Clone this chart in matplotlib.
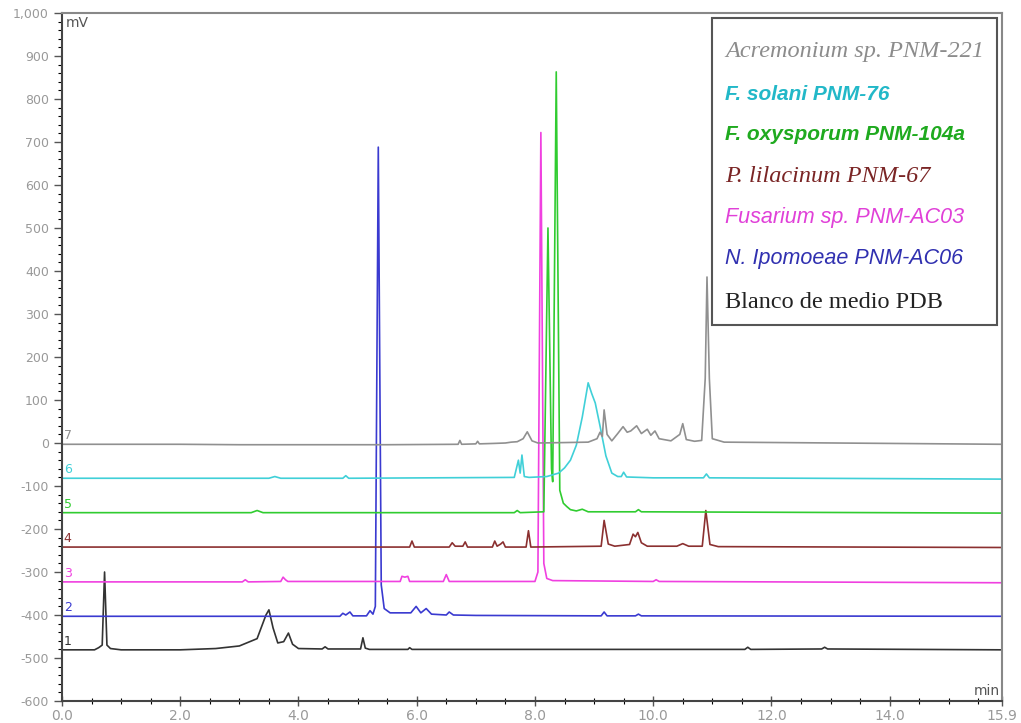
import matplotlib.pyplot as plt
from matplotlib.patches import Rectangle
from matplotlib.ticker import MultipleLocator, FuncFormatter

# cromatogramas (tiempo en min, señal en mV, cada uno con su desplazamiento)
t1 = [0.0, 0.55, 0.62, 0.68, 0.72, 0.76, 0.82, 1.0, 2.0, 2.6, 3.0, 3.3, 3.45, 3.5, 3.57,
      3.65, 3.75, 3.83, 3.9, 4.0, 4.4, 4.45, 4.5, 5.05, 5.09, 5.13, 5.2, 5.85, 5.88, 5.92,
      11.55, 11.6, 11.65, 12.85, 12.9, 12.95, 15.9]
mv1 = [-481, -481, -476, -470, -300, -470, -478, -481, -481, -478, -472, -455, -400, -388, -430,
       -465, -462, -442, -468, -478, -479, -474, -479, -479, -453, -477, -480, -480, -476, -480,
       -480, -475, -480, -479, -475, -479, -481]

t2 = [0.0, 4.7, 4.75, 4.8, 4.87, 4.92, 5.15, 5.21, 5.26, 5.30, 5.35, 5.40, 5.45, 5.55, 5.9,
      5.99, 6.07, 6.16, 6.25, 6.5, 6.55, 6.62, 7.0, 9.12, 9.17, 9.22, 9.7, 9.75, 9.8, 15.9]
mv2 = [-403, -403, -396, -400, -393, -402, -402, -390, -398, -380, 688, -330, -385, -395, -395,
       -380, -395, -385, -398, -400, -393, -400, -401, -402, -393, -402, -402, -398, -402, -403]

t3 = [0.0, 3.05, 3.1, 3.15, 3.7, 3.74, 3.78, 3.82, 4.0, 5.72, 5.75, 5.8, 5.85, 5.88, 6.45,
      6.5, 6.55, 8.0, 8.05, 8.10, 8.15, 8.2, 8.3, 10.0, 10.05, 10.1, 15.9]
mv3 = [-323, -323, -318, -323, -322, -312, -318, -322, -322, -322, -310, -312, -310, -322, -322,
       -306, -322, -322, -300, 722, -280, -315, -320, -322, -318, -322, -325]

t4 = [0.0, 5.88, 5.92, 5.96, 6.55, 6.6, 6.65, 6.78, 6.82, 6.86, 7.28, 7.32, 7.36, 7.42, 7.46,
      7.5, 7.85, 7.89, 7.93, 9.12, 9.17, 9.24, 9.35, 9.6, 9.66, 9.7, 9.74, 9.8, 9.9, 10.4,
      10.5, 10.6, 10.83, 10.89, 10.96, 11.1, 15.9]
mv4 = [-242, -242, -228, -242, -242, -232, -240, -240, -230, -242, -242, -228, -240, -235, -230,
       -242, -242, -204, -242, -240, -180, -235, -240, -236, -212, -218, -208, -232, -240, -240,
       -234, -240, -240, -157, -236, -241, -243]

t5 = [0.0, 3.2, 3.3, 3.4, 7.65, 7.7, 7.75, 8.15, 8.22, 8.28, 8.30, 8.36, 8.42, 8.48, 8.54,
      8.6, 8.7, 8.8, 8.9, 9.7, 9.75, 9.8, 15.9]
mv5 = [-162, -162, -157, -162, -162, -157, -162, -160, 500, -60, -90, 863, -110, -140, -148,
       -155, -158, -154, -160, -160, -155, -160, -163]

t6 = [0.0, 3.5, 3.6, 3.7, 4.75, 4.8, 4.85, 7.65, 7.72, 7.75, 7.78, 7.82, 7.9, 8.2, 8.4,
      8.5, 8.6, 8.7, 8.8, 8.9, 8.96, 9.02, 9.1, 9.2, 9.3, 9.4, 9.46, 9.5, 9.55, 10.0,
      10.85, 10.9, 10.95, 15.9]
mv6 = [-82, -82, -78, -82, -82, -76, -82, -80, -40, -70, -28, -78, -80, -78, -70,
       -58, -40, -5, 60, 140, 115, 93, 40, -30, -70, -78, -78, -68, -79, -81,
       -81, -72, -81, -84]

t7 = [0.0, 2.0, 3.0, 5.5, 6.7, 6.73, 6.76, 7.0, 7.03, 7.06, 7.3, 7.5, 7.6, 7.7, 7.8,
      7.87, 7.95, 8.05, 8.5, 8.9, 9.05, 9.1, 9.14, 9.17, 9.22, 9.3, 9.4, 9.49, 9.56, 9.62,
      9.72, 9.8, 9.9, 9.96, 10.03, 10.1, 10.3, 10.45, 10.5, 10.56, 10.7, 10.82, 10.88, 10.91,
      10.95, 11.0, 11.2, 15.9]
mv7 = [-3, -3, -4, -4, -3, 6, -3, -2, 4, -2, -1, 0, 2, 3, 10,
       26, 5, 0, 1, 2, 10, 25, 15, 77, 20, 5, 22, 38, 25, 28,
       40, 22, 32, 18, 28, 10, 5, 20, 45, 8, 4, 6, 150, 386,
       150, 10, 2, -3]

trazas = [(t1, mv1), (t2, mv2), (t3, mv3), (t4, mv4), (t5, mv5), (t6, mv6), (t7, mv7)]
colores = ["#333333", "#3a3ad0", "#f040e0", "#8b3030", "#30cc30", "#40d0d8", "#909090"]
etiquetas = ["1", "2", "3", "4", "5", "6", "7"]

muestras = ["Acremonium sp. PNM-221", "F. solani PNM-76", "F. oxysporum PNM-104a",
            "P. lilacinum PNM-67", "Fusarium sp. PNM-AC03", "N. Ipomoeae PNM-AC06",
            "Blanco de medio PDB"]
col_muestras = ["#8c8c8c", "#22b8c8", "#1faa1f", "#7a2525", "#e040d8", "#3030b0", "#222222"]
fuentes = ["Liberation Serif", "Liberation Sans", "Liberation Sans", "Liberation Serif",
           "Liberation Sans", "Liberation Sans", "Liberation Serif"]
tamanos = [17.5, 15, 15, 17.5, 15.5, 15.5, 17.5]
estilos = ["italic", "italic", "italic", "italic", "italic", "italic", "normal"]
pesos = ["normal", "bold", "bold", "normal", "normal", "normal", "normal"]

fig = plt.figure(figsize=(10.21, 7.23), dpi=100)
ax = fig.add_axes([62 / 1021, 22 / 723, 940 / 1021, 688 / 723])

for (t, mv), c, e in zip(trazas, colores, etiquetas):
    ax.plot(t, mv, color=c, lw=1.2)
    ax.text(0.03, mv[0] + 5, e, color=c, fontsize=9, ha="left", va="bottom")

ax.set_xlim(0, 15.9)
ax.set_ylim(-600, 1000)
ax.set_xticks([0, 2, 4, 6, 8, 10, 12, 14, 15.9])
ax.xaxis.set_major_formatter(FuncFormatter(lambda v, p: f"{v:.1f}"))
ax.xaxis.set_minor_locator(MultipleLocator(0.5))
ax.yaxis.set_major_locator(MultipleLocator(100))
ax.yaxis.set_minor_locator(MultipleLocator(20))
ax.yaxis.set_major_formatter(FuncFormatter(lambda v, p: f"{int(v):,}"))
ax.tick_params(axis="both", colors="#555555", labelcolor="#999999", labelsize=9)
ax.tick_params(axis="y", which="major", length=6, width=1)
ax.tick_params(axis="y", which="minor", length=3, width=0.8)
ax.tick_params(axis="x", which="major", direction="inout", length=7, width=1)
ax.tick_params(axis="x", which="minor", direction="inout", length=4, width=0.8)
ax.tick_params(axis="x", labelsize=10, pad=2)

for lado in ["left", "bottom"]:
    ax.spines[lado].set_color("#444444")
    ax.spines[lado].set_linewidth(1.5)
for lado in ["top", "right"]:
    ax.spines[lado].set_color("#888888")
    ax.spines[lado].set_linewidth(1.5)

ax.text(0.004, 0.995, "mV", transform=ax.transAxes, fontsize=10, color="#555555",
        ha="left", va="top")
ax.text(0.998, 0.004, "min", transform=ax.transAxes, fontsize=10, color="#555555",
        ha="right", va="bottom")

# cuadro con los nombres de las muestras
ax.add_patch(Rectangle((0.691, 0.5465), 0.304, 0.4465, transform=ax.transAxes,
                       facecolor="white", edgecolor="#555555", lw=1.5, zorder=5))
y_txt = [52, 94, 135, 177, 217, 258, 302]
for nombre, c, f, tm, s, w, y in zip(muestras, col_muestras, fuentes, tamanos, estilos,
                                      pesos, y_txt):
    ax.text((725 - 62) / 940, 1 - (y - 13) / 688, nombre, transform=ax.transAxes,
            color=c, family=f, style=s, weight=w, fontsize=tm, ha="left", va="center",
            zorder=6)

fig.savefig("out.png", dpi=100)
